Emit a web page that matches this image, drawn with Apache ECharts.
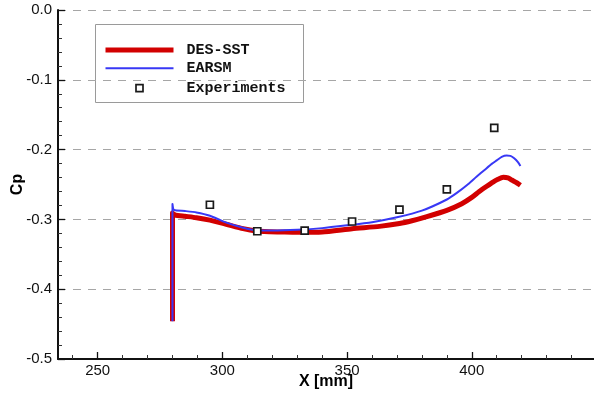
<!DOCTYPE html>
<html>
<head>
<meta charset="utf-8">
<script src="https://cdn.jsdelivr.net/npm/echarts@6/dist/echarts.min.js"></script>
<style>
  html, body { margin: 0; padding: 0; background: #fff; }
  #chart { width: 594px; height: 396px; }
</style>
</head>
<body>
<div id="chart"></div>
<script>
// Pressure coefficient along the surface, X in mm
const desX = [280, 280, 281, 285, 289.6, 295, 301.6, 308.3, 313.7, 319, 325, 330, 340, 352, 363, 371, 376, 382, 390, 396, 400, 403, 406, 408.5, 410.5, 412.6, 414.5, 416, 418, 419.5];
const desCp = [-0.446, -0.291, -0.2937, -0.2955, -0.2975, -0.301, -0.307, -0.3133, -0.3166, -0.3176, -0.3182, -0.3185, -0.318, -0.3133, -0.310, -0.306, -0.302, -0.296, -0.287, -0.2775, -0.2685, -0.260, -0.2525, -0.2465, -0.2425, -0.2397, -0.2405, -0.2436, -0.2475, -0.2512];

const earsmX = [280, 280, 280.6, 285, 289.6, 295, 301.6, 308.3, 313.7, 320, 330, 340, 350, 360, 370, 380, 390, 394, 398, 402, 405, 408, 410, 412, 414, 415.5, 417, 418.5, 419.5];
const earsmCp = [-0.446, -0.278, -0.2865, -0.288, -0.290, -0.2947, -0.3047, -0.312, -0.3155, -0.3158, -0.3148, -0.3125, -0.3085, -0.304, -0.297, -0.2875, -0.2715, -0.262, -0.251, -0.2385, -0.2295, -0.2205, -0.2155, -0.2105, -0.2085, -0.209, -0.2125, -0.218, -0.2235];

const expX = [295, 314, 333, 352, 371, 390, 409];
const expCp = [-0.279, -0.317, -0.316, -0.303, -0.286, -0.257, -0.169];

const xMajorTicks = [250, 300, 350, 400];
const xMinorTicks = [240, 260, 270, 280, 290, 310, 320, 330, 340, 360, 370, 380, 390, 410, 420, 430, 440];

const seriesNames = ['DES-SST', 'EARSM', 'Experiments'];

const pairs = (xs, ys) => xs.map((x, i) => [x, ys[i]]);

const axisFont = 'Liberation Sans, Arial, Helvetica, sans-serif';
const legendFont = '"Courier New", "Liberation Mono", monospace';

const chart = echarts.init(document.getElementById('chart'), null, { renderer: 'canvas' });

chart.setOption({
  animation: false,
  backgroundColor: '#ffffff',
  grid: { left: 58, top: 10, right: 0, bottom: 37, containLabel: false, outerBoundsMode: 'none' },
  xAxis: [
    {
      type: 'value',
      position: 'bottom',
      min: 234.1,
      max: 449,
      name: 'X [mm]',
      nameLocation: 'middle',
      nameGap: 15,
      nameMoveOverlap: false,
      nameTextStyle: { fontFamily: axisFont, fontWeight: 'bold', fontSize: 16, color: '#000' },
      axisLine: { onZero: false, lineStyle: { color: '#111', width: 2 } },
      axisTick: { inside: true, length: 7, customValues: xMajorTicks, lineStyle: { color: '#111', width: 1.3 } },
      axisLabel: { customValues: xMajorTicks, margin: 4, fontFamily: axisFont, fontSize: 15, color: '#111' },
      splitLine: { show: false }
    },
    {
      type: 'value',
      position: 'bottom',
      min: 234.1,
      max: 449,
      axisLine: { show: false, onZero: false },
      axisTick: { inside: true, length: 4, customValues: xMinorTicks, lineStyle: { color: '#333', width: 1 } },
      axisLabel: { show: false },
      splitLine: { show: false }
    }
  ],
  yAxis: {
    type: 'value',
    min: -0.5,
    max: 0,
    interval: 0.1,
    name: 'Cp',
    nameLocation: 'middle',
    nameGap: 32,
    nameMoveOverlap: false,
    nameTextStyle: { fontFamily: axisFont, fontWeight: 'bold', fontSize: 16, color: '#000' },
    axisLine: { onZero: false, lineStyle: { color: '#111', width: 2 } },
    axisTick: { inside: true, length: 7, lineStyle: { color: '#111', width: 1.3 } },
    minorTick: { show: true, splitNumber: 5, length: 4, lineStyle: { color: '#333', width: 1 } },
    axisLabel: {
      margin: 6,
      fontFamily: axisFont,
      fontSize: 15,
      color: '#111',
      formatter: v => v.toFixed(1)
    },
    splitLine: { show: true, lineStyle: { color: '#a6a6a6', width: 1, type: [8, 7] } }
  },
  series: [
    {
      name: seriesNames[0],
      type: 'line',
      data: pairs(desX, desCp),
      showSymbol: false,
      smooth: 0.2,
      lineStyle: { color: '#d20000', width: 5, join: 'round', cap: 'butt' },
      itemStyle: { color: '#d20000' },
      z: 2
    },
    {
      name: seriesNames[1],
      type: 'line',
      data: pairs(earsmX, earsmCp),
      showSymbol: false,
      smooth: 0.2,
      lineStyle: { color: '#3838f5', width: 2, join: 'round' },
      itemStyle: { color: '#3838f5' },
      z: 3
    },
    {
      name: seriesNames[2],
      type: 'scatter',
      data: pairs(expX, expCp),
      symbol: 'rect',
      symbolSize: 7,
      itemStyle: { color: '#ffffff', borderColor: '#1a1a1a', borderWidth: 1.7, opacity: 1 },
      z: 4
    }
  ],
  graphic: [
    {
      type: 'group',
      left: 95,
      top: 24,
      children: [
        { type: 'rect', shape: { x: 0, y: 0, width: 208, height: 78 }, style: { fill: '#fff', stroke: '#9a9a9a', lineWidth: 1 } },
        { type: 'line', shape: { x1: 10, y1: 25.5, x2: 78, y2: 25.5 }, style: { stroke: '#d20000', lineWidth: 5 } },
        { type: 'line', shape: { x1: 10, y1: 43.7, x2: 78, y2: 43.7 }, style: { stroke: '#3838f5', lineWidth: 2 } },
        { type: 'rect', shape: { x: 40.5, y: 60.2, width: 7, height: 7 }, style: { fill: '#fff', stroke: '#1a1a1a', lineWidth: 1.7 } },
        { type: 'text', x: 91, y: 25.5, style: { text: seriesNames[0], font: 'bold 15px ' + legendFont, fill: '#111', verticalAlign: 'middle' } },
        { type: 'text', x: 91, y: 43.7, style: { text: seriesNames[1], font: 'bold 15px ' + legendFont, fill: '#111', verticalAlign: 'middle' } },
        { type: 'text', x: 91, y: 63.5, style: { text: seriesNames[2], font: 'bold 15px ' + legendFont, fill: '#111', verticalAlign: 'middle' } }
      ]
    }
  ]
});
</script>
</body>
</html>
